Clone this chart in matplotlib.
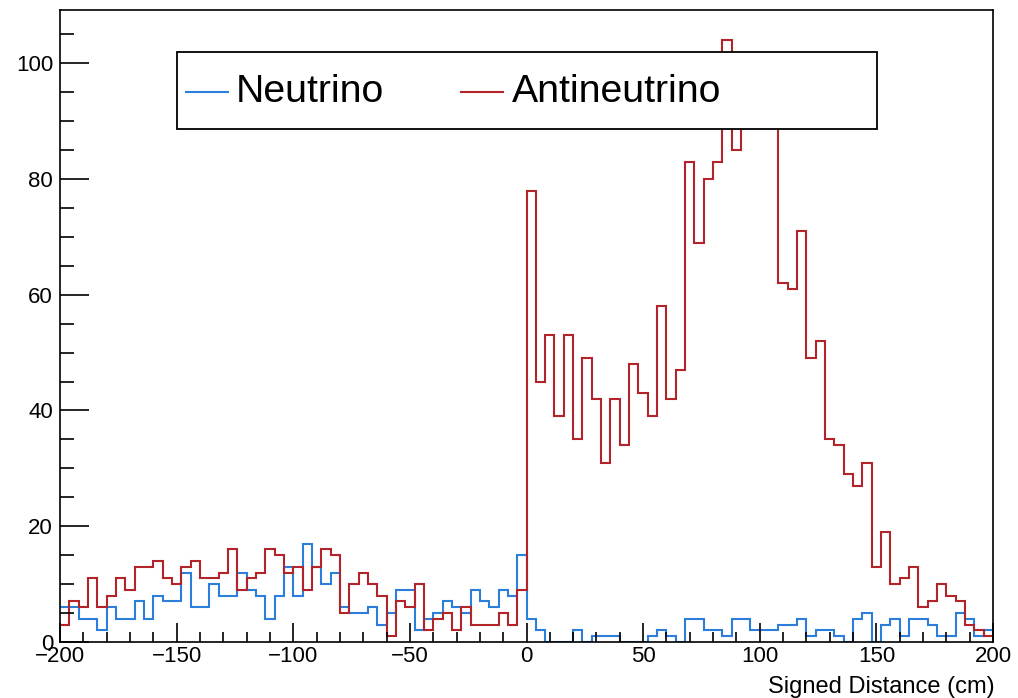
import numpy as np
import matplotlib
matplotlib.use("Agg")
import matplotlib.pyplot as plt
from matplotlib.patches import Rectangle
from matplotlib.lines import Line2D
from matplotlib.ticker import MultipleLocator

# Histogram binning: 100 bins of 4 cm from -200 to 200
x_min, x_max, n_bins = -200, 200, 100

neutrino = [
    6, 6, 4, 4, 2, 6, 4, 4, 7, 4,
    8, 7, 7, 12, 6, 6, 10, 8, 8, 12,
    9, 8, 4, 8, 13, 8, 17, 13, 10, 12,
    6, 5, 5, 6, 3, 5, 9, 9, 2, 4,
    5, 7, 6, 5, 9, 7, 6, 9, 8, 15,
    4, 2, 0, 0, 0, 2, 0, 1, 1, 1,
    0, 0, 0, 1, 2, 1, 0, 4, 4, 2,
    2, 1, 4, 4, 2, 2, 2, 3, 3, 4,
    1, 2, 2, 1, 0, 4, 5, 0, 3, 4,
    1, 4, 4, 3, 1, 1, 5, 4, 1, 2,
]

antineutrino = [
    3, 7, 6, 11, 6, 8, 11, 9, 13, 13,
    14, 11, 10, 13, 14, 11, 11, 12, 16, 9,
    11, 12, 16, 15, 12, 13, 9, 13, 16, 15,
    5, 10, 12, 10, 8, 1, 7, 6, 10, 2,
    4, 5, 2, 6, 3, 3, 3, 5, 3, 9,
    78, 45, 53, 39, 53, 35, 49, 42, 31, 42,
    34, 48, 43, 39, 58, 42, 47, 83, 69, 80,
    83, 104, 85, 95, 99, 101, 97, 62, 61, 71,
    49, 52, 35, 34, 29, 27, 31, 13, 19, 10,
    11, 13, 6, 7, 10, 8, 7, 3, 2, 1,
]

labels = ["Neutrino", "Antineutrino"]
colors = ["#2b7fdb", "#b3232a"]

W, H = 1018, 698
fig = plt.figure(figsize=(W / 100, H / 100), dpi=100)
plt.rcParams["font.family"] = ["Liberation Sans", "DejaVu Sans"]

# plot frame in pixel units
ax_l, ax_r, ax_t, ax_b = 60, 993, 10, 642
ax = fig.add_axes([ax_l / W, 1 - ax_b / H, (ax_r - ax_l) / W, (ax_b - ax_t) / H])

edges = np.linspace(x_min, x_max, n_bins + 1)
ax.stairs(neutrino, edges, color=colors[0], lw=1.5, baseline=None)
ax.stairs(antineutrino, edges, color=colors[1], lw=1.5, baseline=None)

ax.set_xlim(x_min, x_max)
ax.set_ylim(0, 109.2)

ax.xaxis.set_major_locator(MultipleLocator(50))
ax.xaxis.set_minor_locator(MultipleLocator(10))
ax.yaxis.set_major_locator(MultipleLocator(20))
ax.yaxis.set_minor_locator(MultipleLocator(5))
ax.tick_params(which="both", direction="in", top=False, right=False,
               labelsize=16, width=1.2, color="black")
ax.tick_params(axis="x", which="major", length=14, pad=3)
ax.tick_params(axis="x", which="minor", length=7)
ax.tick_params(axis="y", which="major", length=21, pad=5)
ax.tick_params(axis="y", which="minor", length=10)
for s in ax.spines.values():
    s.set_linewidth(1.2)

fig.text(995 / W, 0.5 / H, "Signed Distance (cm)", ha="right", va="bottom",
         fontsize=17)

# legend box drawn on top of the histograms
lx0, lx1, ly0, ly1 = 177, 877, 52, 129
fig.patches.append(Rectangle((lx0 / W, 1 - ly1 / H), (lx1 - lx0) / W, (ly1 - ly0) / H,
                             transform=fig.transFigure, facecolor="white",
                             edgecolor="black", lw=1.3, zorder=10))
ly = 1 - 92 / H
for (x0, x1, tx), lab, c in zip([(186, 228, 236), (461, 503, 512)], labels, colors):
    fig.lines.append(Line2D([x0 / W, x1 / W], [ly, ly], transform=fig.transFigure,
                            color=c, lw=1.5, zorder=11))
    fig.text(tx / W, ly, lab, ha="left", va="center", fontsize=28.3, zorder=12)

fig.savefig("out.png", dpi=100)
